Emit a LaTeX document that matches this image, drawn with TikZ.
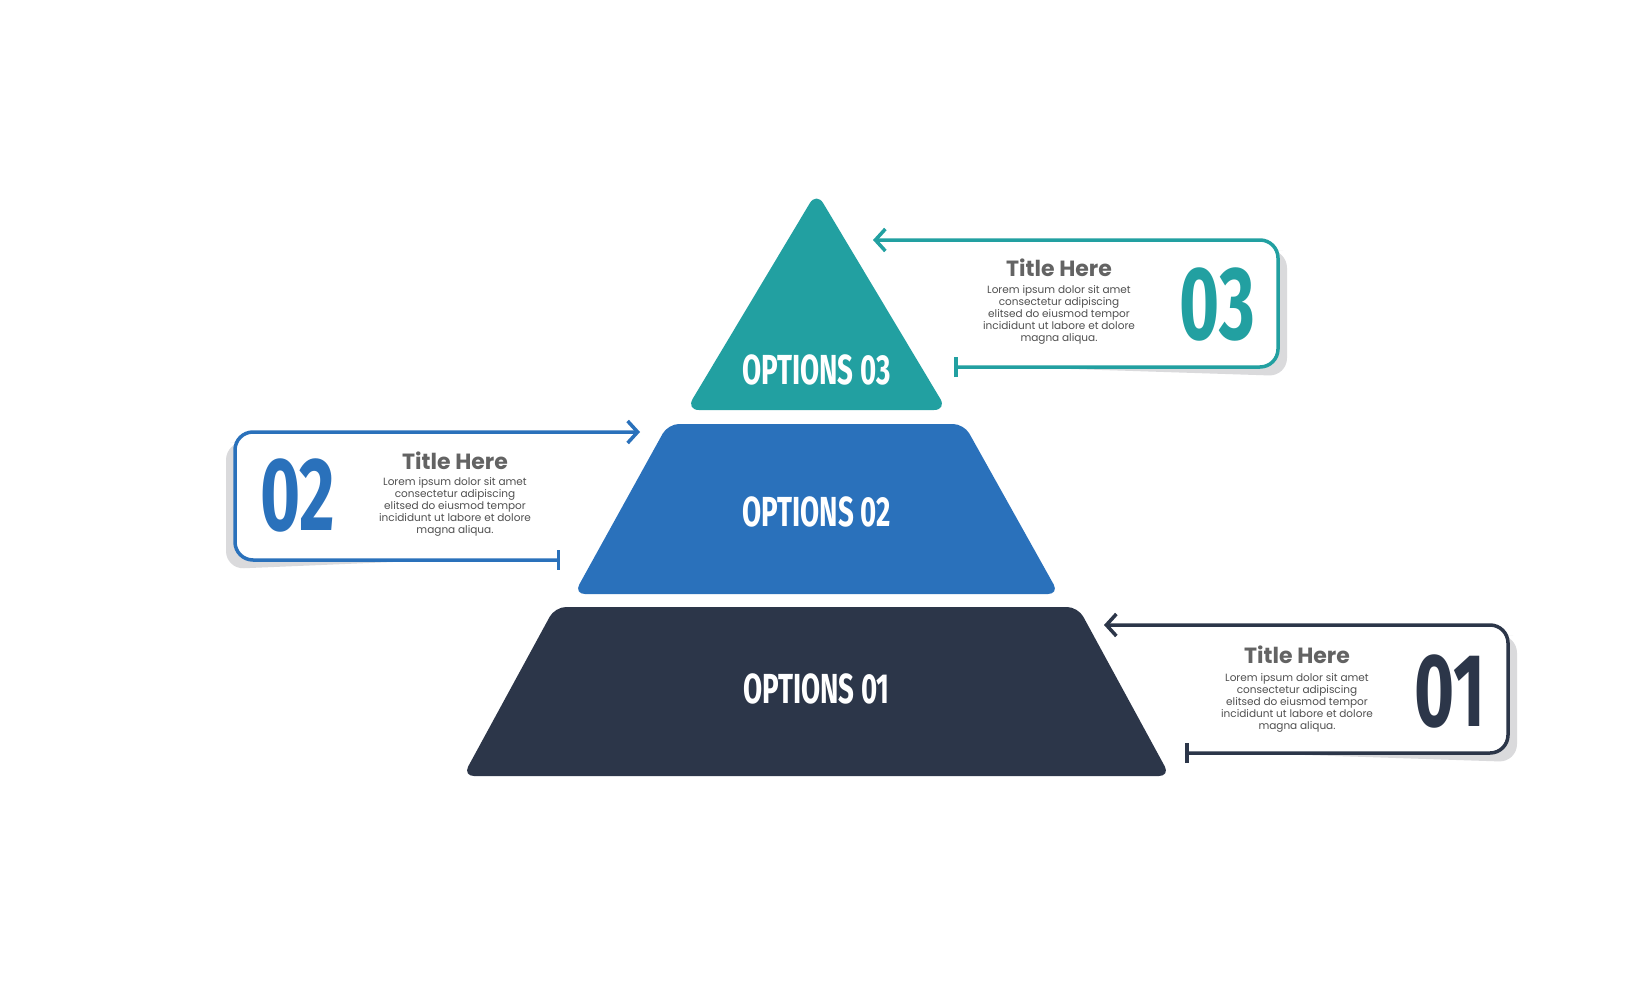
\documentclass[tikz,border=0pt]{standalone}
\usepackage{fontspec}
\usetikzlibrary{arrows.meta}
\newfontfamily\popfont{Poppins}
\newfontfamily\condfont[FakeStretch=0.66]{Fira Sans}
\definecolor{tealopt}{HTML}{22A0A1}
\definecolor{blueopt}{HTML}{2A71BB}
\definecolor{navyopt}{HTML}{2C3649}
\definecolor{shadowgrey}{HTML}{DADADC}
\definecolor{titlegrey}{HTML}{636363}
\definecolor{bodygrey}{HTML}{505050}

\begin{document}
\begin{tikzpicture}[x=1pt,y=-1pt]
    \tikzset{
      layer/.style={fill=#1, rounded corners=11pt},
      layer label/.style={text=white, font=\condfont\bfseries\fontsize{42}{42}\selectfont},
      big number/.style={text=#1, font=\condfont\bfseries\fontsize{104}{104}\selectfont},
      box title/.style={text=titlegrey, font=\popfont\bfseries\fontsize{22}{22}\selectfont},
      box text/.style={text=bodygrey, align=center, font=\popfont\fontsize{10.5}{12.2}\selectfont},
      box line/.style={draw=#1, line width=3.5pt, rounded corners=18pt,
        arrows={Bar[width=20pt]-Straight Barb[length=10pt,width=22pt]}},
      box shadow/.style={fill=shadowgrey, rounded corners=18pt},
    }
    \useasboundingbox[fill=white] (0,0) rectangle (1633,980);
    %
    % pyramid
    \fill[layer=navyopt] (555,607) -- (1078,607) -- (1170,776) -- (463,776) -- cycle;
    \fill[layer=blueopt] (668,424) -- (964,424) -- (1059,594) -- (574,594) -- cycle;
    \fill[layer=tealopt, rounded corners=13pt] (816.5,192) -- (947,410) -- (686,410) -- cycle;
    \node[layer label] (opt1) at (816.5,689) {OPTIONS 01};
    \node[layer label] (opt2) at (816.5,512) {OPTIONS 02};
    \node[layer label] (opt3) at (816.5,370) {OPTIONS 03};
    %
    % box 03
    \coordinate (tip3) at (873,240);
    \coordinate (bar3) at (954,367);
    \fill[box shadow] (1010,367) -- (1287,376) -- (1287,250) -- (1265,250) -- cycle;
    \fill[white, rounded corners=18pt] (tip3) -- (1278,240) -- (1278,367) -- (bar3) -- cycle;
    \draw[box line=tealopt] (bar3) -- (1278,367) -- (1278,240) -- (tip3);
    \node[box title] (title3) at (1059,268) {Title Here};
    \node[box text] (text3) at (1059,315) {Lorem ipsum dolor sit amet\\consectetur adipiscing\\elitsed do eiusmod tempor\\incididunt ut labore et dolore\\magna aliqua.};
    \node[big number=tealopt] (num3) at (1217.5,304.5) {03};
    %
    % box 02
    \coordinate (tip2) at (640,432);
    \coordinate (bar2) at (560,560);
    \fill[box shadow] (440,560) -- (226,569) -- (226,442) -- (248,442) -- cycle;
    \fill[white, rounded corners=18pt] (tip2) -- (235,432) -- (235,560) -- (bar2) -- cycle;
    \draw[box line=blueopt] (bar2) -- (235,560) -- (235,432) -- (tip2);
    \node[box title] (title2) at (455,461) {Title Here};
    \node[box text] (text2) at (455,507) {Lorem ipsum dolor sit amet\\consectetur adipiscing\\elitsed do eiusmod tempor\\incididunt ut labore et dolore\\magna aliqua.};
    \node[big number=blueopt] (num2) at (297.5,495) {02};
    %
    % box 01
    \coordinate (tip1) at (1104,625);
    \coordinate (bar1) at (1185,753);
    \fill[box shadow] (1245,753) -- (1517,762) -- (1517,635) -- (1495,635) -- cycle;
    \fill[white, rounded corners=18pt] (tip1) -- (1508,625) -- (1508,753) -- (bar1) -- cycle;
    \draw[box line=navyopt] (bar1) -- (1508,753) -- (1508,625) -- (tip1);
    \node[box title] (title1) at (1297,655) {Title Here};
    \node[box text] (text1) at (1297,703) {Lorem ipsum dolor sit amet\\consectetur adipiscing\\elitsed do eiusmod tempor\\incididunt ut labore et dolore\\magna aliqua.};
    \node[big number=navyopt] (num1) at (1450,691.5) {01};
\end{tikzpicture}
\end{document}
